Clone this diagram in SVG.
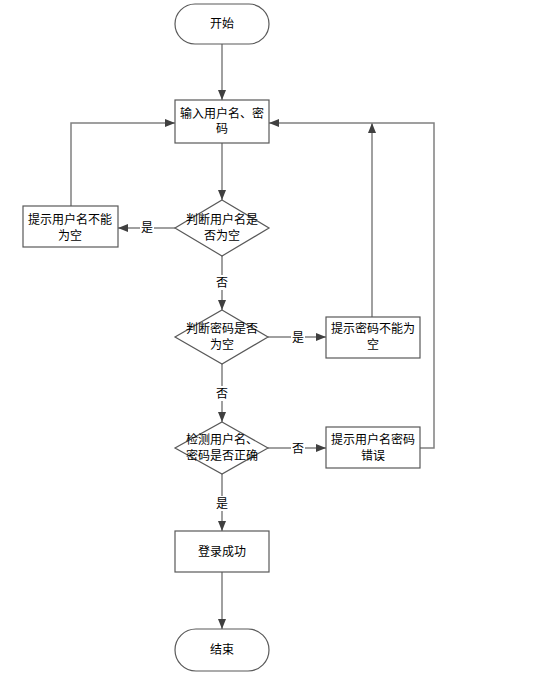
<svg xmlns="http://www.w3.org/2000/svg" width="533" height="697" viewBox="0 0 533 697">
<style>
.n{fill:#fff;stroke:#595959;stroke-width:1.2}
.t{font-family:"Liberation Sans","Noto Sans CJK SC",sans-serif;font-size:12px;fill:#000;text-anchor:middle}
.c{fill:none;stroke:#808080;stroke-width:1.5}
.lb{fill:#fff}
</style>
<defs>
<marker id="a" markerWidth="10" markerHeight="10" viewBox="0 0 10 10" refX="10" refY="5" orient="auto" markerUnits="userSpaceOnUse">
<path d="M0,1 L10,5 L0,9 Z" fill="#404040"/>
</marker>
</defs>
<rect width="533" height="697" fill="#fff"/>
<g id="connectors">
<path class="c" d="M222,44 V100" marker-end="url(#a)"/>
<path class="c" d="M222,143 V200" marker-end="url(#a)"/>
<path class="c" d="M175,228 H118" marker-end="url(#a)"/>
<path class="c" d="M71,206 V123 H175" marker-end="url(#a)"/>
<path class="c" d="M222,256 V310" marker-end="url(#a)"/>
<path class="c" d="M268,337 H326" marker-end="url(#a)"/>
<path class="c" d="M372,317 V123" marker-end="url(#a)"/>
<path class="c" d="M222,364 V422" marker-end="url(#a)"/>
<path class="c" d="M268,448 H326" marker-end="url(#a)"/>
<path class="c" d="M420,448 H434 V123 H269" marker-end="url(#a)"/>
<path class="c" d="M222,474 V531" marker-end="url(#a)"/>
<path class="c" d="M222,572 V629" marker-end="url(#a)"/>
<rect class="lb" x="140" y="220" width="14" height="15"/>
<text class="t" x="147" y="232">是</text>
<rect class="lb" x="215" y="275" width="14" height="15"/>
<text class="t" x="222" y="287">否</text>
<rect class="lb" x="291" y="330" width="14" height="15"/>
<text class="t" x="298" y="342">是</text>
<rect class="lb" x="215" y="386" width="14" height="15"/>
<text class="t" x="222" y="398">否</text>
<rect class="lb" x="291" y="441" width="14" height="15"/>
<text class="t" x="298" y="453">否</text>
<rect class="lb" x="215" y="496" width="14" height="15"/>
<text class="t" x="222" y="508">是</text>
</g>
<g id="start">
<rect class="n" x="175" y="4" width="94" height="40" rx="20"/>
<text class="t" x="222" y="28">开始</text>
</g>
<g id="input">
<rect class="n" x="175" y="100" width="94" height="43"/>
<text class="t" x="222" y="118">输入用户名、密</text>
<text class="t" x="222" y="133">码</text>
</g>
<g id="hint-user-empty">
<rect class="n" x="23" y="206" width="95" height="41"/>
<text class="t" x="70" y="224">提示用户名不能</text>
<text class="t" x="70" y="240">为空</text>
</g>
<g id="check-user">
<polygon class="n" points="222,200 269,228 222,256 175,228"/>
<text class="t" x="222" y="224">判断用户名是</text>
<text class="t" x="222" y="240">否为空</text>
</g>
<g id="check-pass">
<polygon class="n" points="222,310 268,337 222,364 175,337"/>
<text class="t" x="222" y="333">判断密码是否</text>
<text class="t" x="222" y="349">为空</text>
</g>
<g id="hint-pass-empty">
<rect class="n" x="326" y="317" width="94" height="41"/>
<text class="t" x="373" y="333">提示密码不能为</text>
<text class="t" x="373" y="349">空</text>
</g>
<g id="check-login">
<polygon class="n" points="222,422 268,448 222,474 175,448"/>
<text class="t" x="222" y="444">检测用户名、</text>
<text class="t" x="222" y="460">密码是否正确</text>
</g>
<g id="hint-wrong">
<rect class="n" x="326" y="427" width="94" height="41"/>
<text class="t" x="373" y="444">提示用户名密码</text>
<text class="t" x="373" y="460">错误</text>
</g>
<g id="success">
<rect class="n" x="175" y="531" width="94" height="41"/>
<text class="t" x="222" y="556">登录成功</text>
</g>
<g id="end">
<rect class="n" x="175" y="629" width="94" height="42" rx="21"/>
<text class="t" x="222" y="654">结束</text>
</g>
</svg>
